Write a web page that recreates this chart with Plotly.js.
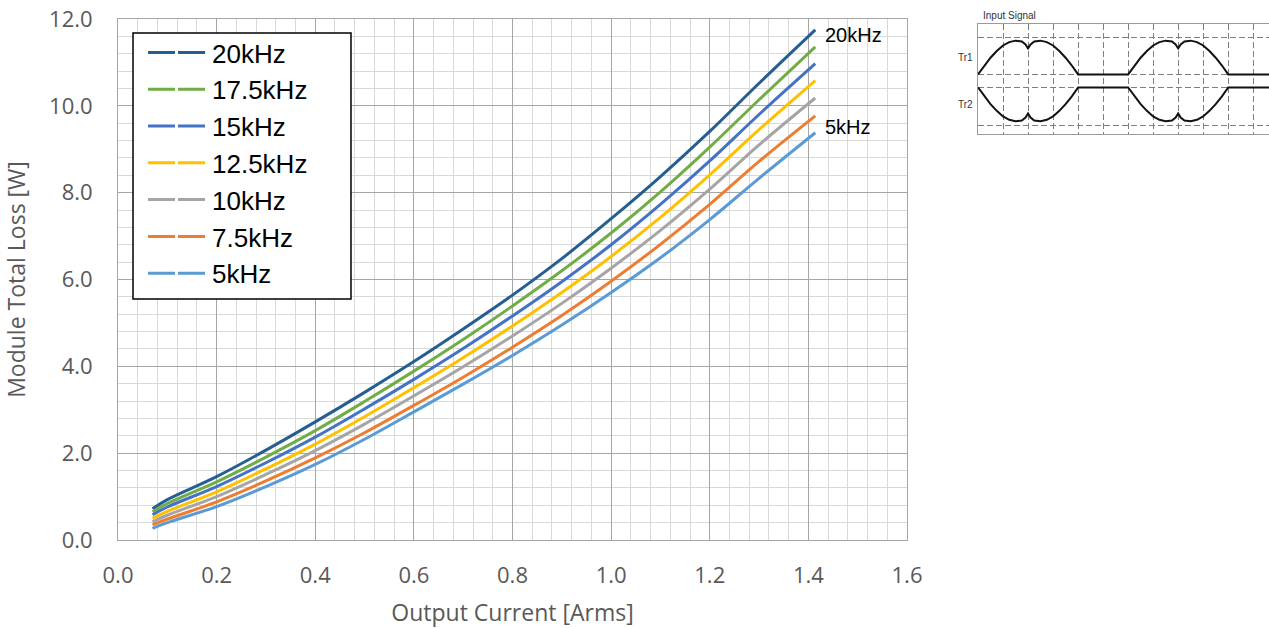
<!DOCTYPE html>
<html>
<head>
<meta charset="utf-8">
<script src="https://cdn.plot.ly/plotly-3.0.1.min.js"></script>
<style>html,body{margin:0;padding:0;background:#fff;}#chart{width:1269px;height:628px;}</style>
</head>
<body>
<div id="chart"></div>
<script>
// ---- main chart data ----
const current = [0.07, 0.1, 0.2, 0.3, 0.4, 0.5, 0.6, 0.7, 0.8, 0.9, 1.0, 1.1, 1.2, 1.3, 1.414];
const seriesNames = ["20kHz", "17.5kHz", "15kHz", "12.5kHz", "10kHz", "7.5kHz", "5kHz"];
const loss20k  = [0.72, 0.93, 1.46, 2.07, 2.72, 3.40, 4.11, 4.86, 5.64, 6.48, 7.40, 8.37, 9.41, 10.52, 11.75];
const loss17k5 = [0.65, 0.84, 1.34, 1.91, 2.52, 3.19, 3.89, 4.62, 5.39, 6.20, 7.07, 8.02, 9.05, 10.14, 11.36];
const loss15k  = [0.58, 0.76, 1.23, 1.78, 2.37, 3.02, 3.70, 4.41, 5.16, 5.95, 6.80, 7.73, 8.73, 9.80, 10.97];
const loss12k5 = [0.50, 0.66, 1.11, 1.64, 2.21, 2.84, 3.51, 4.20, 4.93, 5.70, 6.53, 7.43, 8.41, 9.45, 10.58];
const loss10k  = [0.42, 0.57, 1.00, 1.51, 2.06, 2.67, 3.32, 3.99, 4.70, 5.45, 6.26, 7.13, 8.08, 9.10, 10.18];
const loss7k5  = [0.35, 0.48, 0.88, 1.36, 1.89, 2.47, 3.10, 3.75, 4.44, 5.17, 5.96, 6.81, 7.73, 8.72, 9.77];
const loss5k   = [0.27, 0.40, 0.77, 1.23, 1.74, 2.32, 2.95, 3.59, 4.25, 4.95, 5.70, 6.50, 7.38, 8.33, 9.38];
const xTicks = [0.0, 0.2, 0.4, 0.6, 0.8, 1.0, 1.2, 1.4, 1.6];
const yTicks = [0.0, 2.0, 4.0, 6.0, 8.0, 10.0, 12.0];

// ---- inset (input signal) diagram data ----
const tr1X = [0,0.25,0.5,0.75,1,1.25,1.5,1.75,1.9,2.0,2.1,2.25,2.5,2.75,3,3.25,3.5,3.75,4,
              6,6.25,6.5,6.75,7,7.25,7.5,7.75,7.9,8.0,8.1,8.25,8.5,8.75,9,9.25,9.5,9.75,10,11.63];
const tr1Y = [0,0.24,0.45,0.63,0.78,0.87,0.91,0.89,0.81,0.70,0.81,0.89,0.91,0.87,0.78,0.63,0.45,0.24,0,
              0,0.24,0.45,0.63,0.78,0.87,0.91,0.89,0.81,0.70,0.81,0.89,0.91,0.87,0.78,0.63,0.45,0.24,0,0];
const tr2Y = [-0.35,-0.59,-0.80,-0.98,-1.13,-1.22,-1.26,-1.24,-1.16,-1.05,-1.16,-1.24,-1.26,-1.22,-1.13,-0.98,-0.80,-0.59,-0.35,
              -0.35,-0.59,-0.80,-0.98,-1.13,-1.22,-1.26,-1.24,-1.16,-1.05,-1.16,-1.24,-1.26,-1.22,-1.13,-0.98,-0.80,-0.59,-0.35,-0.35];
const insetGridX = [1,2,3,4,5,6,7,8,9,10,11];
const insetGridY = [1, 0, -0.35, -1.37];

const colors = ["#255E91", "#70AD47", "#4472C4", "#FFC000", "#A5A5A5", "#ED7D31", "#5B9BD5"];
const seriesY = [loss20k, loss17k5, loss15k, loss12k5, loss10k, loss7k5, loss5k];

const traces = [];
seriesY.forEach((ys, i) => {
  traces.push({
    x: current, y: ys, type: 'scatter', mode: 'lines', name: seriesNames[i],
    line: {color: colors[i], width: 3, shape: 'spline', smoothing: 1},
    showlegend: false, xaxis: 'x', yaxis: 'y'
  });
});
// legend entries (Excel-style split sample)
seriesNames.forEach((nm, i) => {
  traces.push({
    x: [null], y: [null], type: 'scatter', mode: 'lines', name: nm,
    line: {color: colors[i], width: 3, dash: '27px,3px,27px,20px'},
    showlegend: true, xaxis: 'x', yaxis: 'y'
  });
});
// inset waveforms
traces.push({x: tr1X, y: tr1Y, type: 'scatter', mode: 'lines', line: {color: '#111', width: 2}, showlegend: false, xaxis: 'x2', yaxis: 'y2'});
traces.push({x: tr1X, y: tr2Y, type: 'scatter', mode: 'lines', line: {color: '#111', width: 2}, showlegend: false, xaxis: 'x2', yaxis: 'y2'});

const W = 1269, H = 628;
const tickFont = {family: 'Open Sans, sans-serif', size: 22, color: '#595959'};
const titleFont = {family: 'Open Sans, sans-serif', size: 23, color: '#595959'};
const labelFont = {family: 'Liberation Sans, Arial, sans-serif', size: 20, color: '#000'};
const smallFont = {family: 'Liberation Sans, Arial, sans-serif', size: 10, color: '#333'};

const layout = {
  width: W, height: H,
  margin: {l: 0, r: 0, t: 0, b: 0},
  paper_bgcolor: '#ffffff', plot_bgcolor: '#ffffff',
  showlegend: true,
  legend: {
    x: 143 / W, y: 1 - 29 / H, xanchor: 'left', yanchor: 'top',
    bgcolor: 'rgba(0,0,0,0)', borderwidth: 0,
    font: {family: 'Liberation Sans, Arial, sans-serif', size: 26, color: '#000'},
    itemwidth: 59, traceorder: 'normal', tracegroupgap: 0
  },
  shapes: [
    {type: 'rect', xref: 'paper', yref: 'paper', x0: 133 / W, x1: 351 / W, y0: 1 - 299 / H, y1: 1 - 33 / H,
     line: {color: '#000', width: 1.5}, fillcolor: '#ffffff', layer: 'above'}
  ],
  xaxis: {
    domain: [118 / W, 907 / W], range: [0, 1.6],
    tickvals: xTicks, tickformat: '.1f', ticks: '', ticklabelstandoff: 16,
    tickfont: tickFont,
    showgrid: true, gridcolor: '#a6a6a6', gridwidth: 1,
    minor: {dtick: 0.04, showgrid: true, gridcolor: '#d9d9d9', gridwidth: 1},
    showline: true, linecolor: '#a6a6a6', linewidth: 1, mirror: true,
    zeroline: false,
    title: {text: 'Output Current [Arms]', font: titleFont, standoff: 20},
    automargin: false
  },
  yaxis: {
    domain: [1 - 540 / H, 1 - 19 / H], range: [0, 12],
    tickvals: yTicks, tickformat: '.1f', ticks: '', ticklabelstandoff: 20,
    tickfont: tickFont,
    showgrid: true, gridcolor: '#a6a6a6', gridwidth: 1,
    minor: {dtick: 0.4, showgrid: true, gridcolor: '#d9d9d9', gridwidth: 1},
    showline: true, linecolor: '#a6a6a6', linewidth: 1, mirror: true,
    zeroline: false,
    title: {text: 'Module Total Loss [W]', font: titleFont, standoff: 18},
    automargin: false
  },
  xaxis2: {
    domain: [978 / W, 1], range: [0, 11.63], anchor: 'y2',
    tickvals: insetGridX, showticklabels: false, ticks: '',
    showgrid: true, gridcolor: '#7f7f7f', gridwidth: 1, griddash: '6px,3px',
    showline: true, linecolor: '#9a9a9a', linewidth: 1, mirror: true, zeroline: false
  },
  yaxis2: {
    domain: [1 - 133.5 / H, 1 - 24.3 / H], range: [-1.59, 1.35], anchor: 'x2',
    tickvals: insetGridY, showticklabels: false, ticks: '',
    showgrid: true, gridcolor: '#7f7f7f', gridwidth: 1, griddash: '6px,3px',
    showline: true, linecolor: '#9a9a9a', linewidth: 1, mirror: true, zeroline: false
  },
  annotations: [
    {x: current[current.length - 1], y: loss20k[loss20k.length - 1], xref: 'x', yref: 'y', text: seriesNames[0],
     showarrow: false, xanchor: 'left', yanchor: 'middle', xshift: 8, yshift: -5, font: labelFont},
    {x: current[current.length - 1], y: loss5k[loss5k.length - 1], xref: 'x', yref: 'y', text: seriesNames[6],
     showarrow: false, xanchor: 'left', yanchor: 'middle', xshift: 8, yshift: 6, font: labelFont},
    {x: 0.1, y: 1.35, xref: 'x2', yref: 'y2', text: 'Input Signal', showarrow: false,
     xanchor: 'left', yanchor: 'bottom', yshift: 1, font: smallFont},
    {x: 0, y: 0.45, xref: 'x2', yref: 'y2', text: 'Tr1', showarrow: false,
     xanchor: 'right', yanchor: 'middle', xshift: -3, font: smallFont},
    {x: 0, y: -0.8, xref: 'x2', yref: 'y2', text: 'Tr2', showarrow: false,
     xanchor: 'right', yanchor: 'middle', xshift: -3, font: smallFont}
  ]
};

Plotly.newPlot('chart', traces, layout, {staticPlot: true, displayModeBar: false});
</script>
</body>
</html>
